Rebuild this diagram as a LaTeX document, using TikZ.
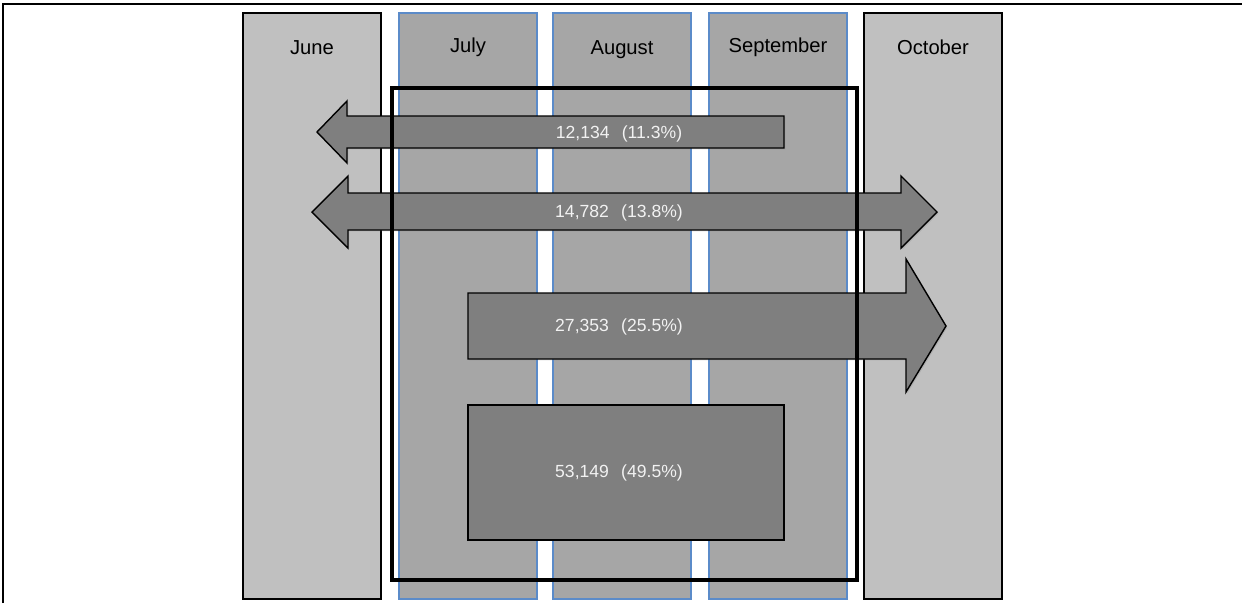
\documentclass[tikz,border=0pt]{standalone}
\usepackage{fontspec}
\setmainfont{Liberation Sans}
\usepackage{tikz}
\usetikzlibrary{shadows}
\definecolor{lightcol}{HTML}{C0C0C0}
\definecolor{midcol}{HTML}{A6A6A6}
\definecolor{darkcol}{HTML}{7F7F7F}
\definecolor{edgeblue}{HTML}{5B8BC9}
\definecolor{numtxt}{HTML}{F2F2F2}
\tikzstyle{outercol} = [draw=black, line width=0.7pt, fill=lightcol]
\tikzstyle{innercol} = [draw=edgeblue, line width=0.6pt, fill=midcol]
\tikzstyle{flow} = [draw=black, line width=0.8pt, fill=darkcol, line join=miter,
  drop shadow={opacity=0.25, shadow xshift=0.8pt, shadow yshift=-0.8pt}]
\tikzstyle{mname} = [draw=none, anchor=base, font=\fontsize{11.5}{13}\selectfont, text=black]
\tikzstyle{count} = [draw=none, anchor=base, font=\fontsize{10}{12}\selectfont, text=numtxt]

\begin{document}
\begin{tikzpicture}[x=0.02cm, y=-0.02cm]
\useasboundingbox (0,0) rectangle (1242,603);
% page frame, top and left only
\draw [line width=1.1pt] (3,603) -- (3,4) -- (1242,4);
% month columns
\filldraw [outercol] (243,13) rectangle (381,599);
\filldraw [innercol] (399,13) rectangle (537,599);
\filldraw [innercol] (553,13) rectangle (691,599);
\filldraw [innercol] (709,13) rectangle (847,599);
\filldraw [outercol] (864,13) rectangle (1002,599);
\node [mname] (jun) at (312, 54) {June};
\node [mname] (jul) at (468, 52) {July};
\node [mname] (aug) at (622, 54) {August};
\node [mname] (sep) at (778, 52) {September};
\node [mname] (oct) at (933, 54) {October};
% flows
\filldraw [flow] (784,116) -- (347,116) -- (347,101) -- (317,132) -- (347,163)
  -- (347,148) -- (784,148) -- cycle;
\filldraw [flow] (348,193) -- (348,176) -- (312,212) -- (348,248) -- (348,230)
  -- (901,230) -- (901,248) -- (937,212) -- (901,176) -- (901,193) -- cycle;
\filldraw [flow] (468,293) -- (906,293) -- (906,259) -- (946,326) -- (906,392)
  -- (906,359) -- (468,359) -- cycle;
\filldraw [flow] (468,405) rectangle (784,540);
\node [count] (left) at (619, 138) {12,134\hspace{0.7em}(11.3\%)};
\node [count] (both) at (619, 217) {14,782\hspace{0.7em}(13.8\%)};
\node [count] (right) at (619, 331) {27,353\hspace{0.7em}(25.5\%)};
\node [count] (stay) at (619, 477) {53,149\hspace{0.7em}(49.5\%)};
% summer window
\draw [line width=2.8pt, line join=miter] (392,88) rectangle (857,580);
\end{tikzpicture}
\end{document}
